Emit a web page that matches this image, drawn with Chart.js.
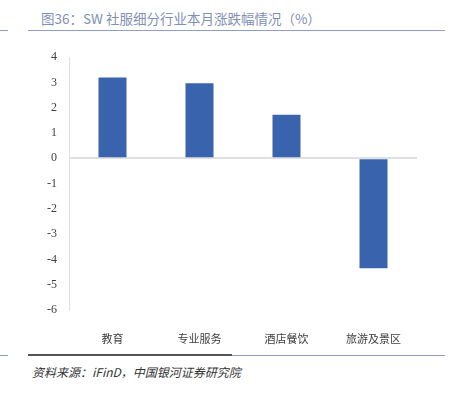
<!DOCTYPE html>
<html lang="zh">
<head>
    <meta charset="UTF-8">
    <title>SW 社服细分行业本月涨跌幅情况</title>
    <script src="https://cdn.jsdelivr.net/npm/chart.js"></script>
    <style>
        body { margin: 0; width: 452px; height: 393px; background: #fff; position: relative; overflow: hidden; }
        .title {
            position: absolute; left: 41px; top: 8px;
            font: 13.5px "Noto Sans CJK SC", sans-serif; color: #7f90b6; white-space: nowrap;
        }
        .line { position: absolute; height: 0; }
        .chart-box { position: absolute; left: 0; top: 38px; width: 452px; height: 312px; }
        .source {
            position: absolute; left: 32px; top: 363px;
            font: italic 12px "Noto Sans CJK SC", sans-serif; color: #333; white-space: nowrap;
        }
    </style>
</head>
<body>
    <div class="title">图36：SW 社服细分行业本月涨跌幅情况（%）</div>
    <div class="line" style="left:0;width:8px;top:30px;border-top:1.5px solid #8fa0c8"></div>
    <div class="line" style="left:28px;width:417px;top:30px;border-top:1.5px solid #8fa0c8"></div>

    <div class="chart-box"><canvas id="chart"></canvas></div>

    <div class="line" style="left:0;width:8px;top:355px;border-top:1.5px solid #8fa0c8"></div>
    <div class="line" style="left:28px;width:204px;top:354px;border-top:2px solid #555"></div>
    <div class="line" style="left:232px;width:213px;top:355px;border-top:1.5px solid #8fa0c8"></div>
    <div class="source">资料来源：iFinD，中国银河证券研究院</div>

    <script>
        // 行业分类与本月涨跌幅（%）
        const categories = ['教育', '专业服务', '酒店餐饮', '旅游及景区'];
        const changes = [3.2, 2.97, 1.72, -4.35];
        const yTicks = [4, 3, 2, 1, 0, -1, -2, -3, -4, -5, -6];

        const ctx = document.getElementById('chart').getContext('2d');
        new Chart(ctx, {
            type: 'bar',
            data: {
                labels: categories,
                datasets: [{
                    data: changes,
                    backgroundColor: '#3a63ad',
                    borderWidth: 0,
                    categoryPercentage: 1,
                    barPercentage: 0.322
                }]
            },
            options: {
                responsive: true,
                maintainAspectRatio: false,
                animation: false,
                layout: { padding: { top: 13, right: 35, bottom: 0, left: 0 } },
                plugins: {
                    legend: { display: false },
                    tooltip: { enabled: false }
                },
                scales: {
                    x: {
                        grid: { display: false },
                        border: { display: false },
                        ticks: {
                            padding: 14,
                            color: '#404040',
                            font: { family: 'Noto Sans CJK SC', size: 11 },
                            maxRotation: 0
                        },
                        afterFit: scale => { scale.height = 40; }
                    },
                    y: {
                        min: Math.min(...yTicks),
                        max: Math.max(...yTicks),
                        afterBuildTicks: scale => {
                            scale.ticks = yTicks.slice().reverse().map(v => ({ value: v }));
                        },
                        grid: {
                            drawTicks: false,
                            lineWidth: 2,
                            color: c => (c.tick && c.tick.value === 0) ? '#e0e0e0' : 'transparent'
                        },
                        border: { display: true, color: '#e0e0e0', width: 1 },
                        ticks: {
                            padding: 12,
                            color: '#404040',
                            font: { family: 'Liberation Serif', size: 12 }
                        },
                        afterFit: scale => { scale.width = 69; }
                    }
                }
            }
        });
    </script>
</body>
</html>
